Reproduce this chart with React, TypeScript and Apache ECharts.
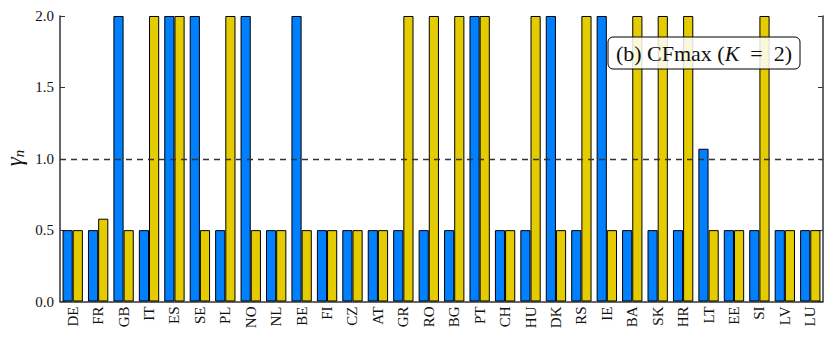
import React, { useEffect, useRef } from "react";
import * as echarts from "echarts";

const categories = ["DE","FR","GB","IT","ES","SE","PL","NO","NL","BE","FI","CZ","AT","GR","RO","BG","PT","CH","HU","DK","RS","IE","BA","SK","HR","LT","EE","SI","LV","LU"];
const blueValues = [0.5,0.5,2,0.5,2,2,0.5,2,0.5,2,0.5,0.5,0.5,0.5,0.5,0.5,2,0.5,0.5,2,0.5,2,0.5,0.5,0.5,1.07,0.5,0.5,0.5,0.5];
const yellowValues = [0.5,0.58,0.5,2,2,0.5,2,0.5,0.5,0.5,0.5,0.5,0.5,2,2,2,2,0.5,2,0.5,2,0.5,2,2,2,0.5,0.5,2,0.5,0.5];
const yTicks = [0, 0.5, 1.0, 1.5, 2.0];
const refLine = 1.0;

const SERIF = "'Liberation Serif', 'DejaVu Serif', serif";

export default function App() {
  const ref = useRef<HTMLDivElement>(null);
  useEffect(() => {
    const chart = echarts.init(ref.current!, null, { renderer: "svg" });
    const axisColor = "#333";
    chart.setOption({
      animation: false,
      grid: { left: 60, right: 8, top: 16, bottom: 37.5, containLabel: false },
      xAxis: {
        type: "category",
        data: categories,
        axisLine: { lineStyle: { color: axisColor, width: 1.5 } },
        axisTick: { show: false },
        axisLabel: { rotate: 90, color: "#111", fontFamily: SERIF, fontSize: 15, margin: 5 },
      },
      yAxis: [
        {
          type: "value",
          min: yTicks[0],
          max: yTicks[yTicks.length - 1],
          interval: 0.5,
          axisLine: { show: true, lineStyle: { color: axisColor, width: 1.5 } },
          axisTick: { show: true, inside: true, length: 5, lineStyle: { color: axisColor } },
          splitLine: { show: false },
          axisLabel: {
            color: "#111", fontFamily: SERIF, fontSize: 15, margin: 6,
            formatter: (v: number) => v.toFixed(1),
          },
        },
        {
          type: "value",
          min: yTicks[0],
          max: yTicks[yTicks.length - 1],
          interval: 0.5,
          position: "right",
          axisLine: { show: true, lineStyle: { color: axisColor, width: 1.5 } },
          axisTick: { show: true, inside: true, length: 5, lineStyle: { color: axisColor } },
          splitLine: { show: false },
          axisLabel: { show: false },
        },
      ],
      series: [
        {
          type: "bar",
          data: blueValues,
          barWidth: "40%",
          barGap: "0%",
          itemStyle: { color: "#0080ff", borderColor: "#000", borderWidth: 1 },
          markLine: {
            silent: true,
            symbol: "none",
            label: { show: false },
            lineStyle: { color: "#333", type: [6, 5], width: 1.3 },
            data: [{ yAxis: refLine }],
          },
        },
        {
          type: "bar",
          data: yellowValues,
          barWidth: "40%",
          barGap: "0%",
          itemStyle: { color: "#e5cc00", borderColor: "#000", borderWidth: 1 },
        },
      ],
      graphic: [
        {
          type: "text",
          x: 14,
          y: 158,
          rotation: Math.PI / 2,
          style: {
            text: "{g|γ}{n|n}",
            align: "center",
            verticalAlign: "middle",
            rich: {
              g: { fontFamily: SERIF, fontStyle: "italic", fontSize: 23, fill: "#111" },
              n: { fontFamily: SERIF, fontStyle: "italic", fontSize: 15, fill: "#111", verticalAlign: "bottom", padding: [9, 0, 0, 0] },
            },
          },
        },
        {
          type: "rect",
          shape: { x: 608, y: 37, width: 192, height: 32, r: 5 },
          style: { fill: "rgba(255,255,255,0.85)", stroke: "#000", lineWidth: 1 },
          z: 100,
        },
        {
          type: "text",
          x: 704,
          y: 53,
          z: 101,
          style: {
            text: "(b) CFmax ({k|K}  =  2)",
            align: "center",
            verticalAlign: "middle",
            fontFamily: SERIF,
            fontSize: 22,
            fill: "#111",
            rich: { k: { fontFamily: SERIF, fontStyle: "italic", fontSize: 22, fill: "#111" } },
          },
        },
      ],
    });
    return () => chart.dispose();
  }, []);
  return <div ref={ref} style={{ width: 831, height: 339, position: "absolute", left: 0, top: 0 }} />;
}
